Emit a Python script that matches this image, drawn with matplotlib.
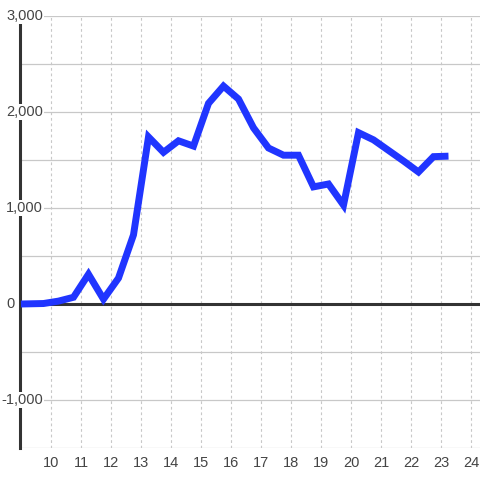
import matplotlib
matplotlib.use("Agg")
import matplotlib.pyplot as plt
import matplotlib.transforms as mtransforms

plt.rcParams['font.family'] = ['Liberation Sans', 'DejaVu Sans']

hours = [9.0, 9.75, 10.25, 10.75, 11.25, 11.75, 12.25, 12.75, 13.25, 13.75,
         14.25, 14.75, 15.25, 15.75, 16.25, 16.75, 17.25, 17.75, 18.25, 18.75,
         19.25, 19.75, 20.25, 20.75, 21.25, 21.75, 22.25, 22.75, 23.25]
values = [0, 5, 30, 70, 310, 50, 270, 720, 1740, 1580,
          1700, 1645, 2090, 2270, 2135, 1835, 1625, 1550, 1550, 1220,
          1250, 1030, 1785, 1710, 1600, 1490, 1375, 1535, 1540]

x_ticks = list(range(10, 25))
y_ticks = [3000, 2000, 1000, 0, -1000]
y_tick_labels = ['3,000', '2,000', '1,000', '0', '-1,000']
y_grid = [3000, 2500, 2000, 1500, 1000, 500, -500, -1000, -1500]

W, H = 480, 480
fig = plt.figure(figsize=(4.8, 4.8), dpi=100)
ax = fig.add_axes([20 / W, (H - 448) / H, 460 / W, 432 / H])
ax.set_xlim(8.967, 24.3)
ax.set_ylim(-1500, 3000)

for s in ['top', 'right', 'bottom']:
    ax.spines[s].set_visible(False)
ax.spines['left'].set_color('#333333')
ax.spines['left'].set_linewidth(2.2)
ax.spines['left'].set_bounds(-1500, 2917)
ax.spines['left'].set_zorder(3)

for v in y_grid:
    ax.axhline(v, color='#c8c8c8', linewidth=0.9, zorder=1)
for xv in x_ticks:
    ax.axvline(xv, color='#c8c8c8', linewidth=0.8, linestyle=(0, (2.5, 2.5)), zorder=1)
ax.axhline(0, color='#333333', linewidth=2.2, zorder=3)

ax.plot(hours, values, color='#2035FF', linewidth=5.0, solid_joinstyle='miter',
        solid_capstyle='butt', zorder=4)

ax.set_yticks([])
ax.set_xticks(x_ticks)
ax.set_xticklabels([str(t) for t in x_ticks], fontsize=10.5, color='#444444')
ax.tick_params(axis='x', length=0, pad=6)

trans = mtransforms.blended_transform_factory(fig.transFigure, ax.transData)
for v, lab in zip(y_ticks, y_tick_labels):
    xr = 15 / W if v == 0 else 43 / W
    ax.text(xr, v, lab, transform=trans, ha='right', va='center', fontsize=10.5,
            color='#444444', zorder=6,
            bbox=dict(facecolor='white', edgecolor='none', pad=1.0),
            clip_on=False)

fig.savefig('out.png', dpi=100, facecolor='white')
